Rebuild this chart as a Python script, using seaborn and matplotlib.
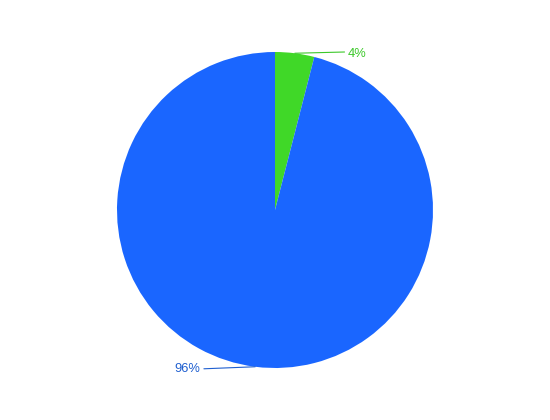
import numpy as np
import matplotlib
matplotlib.use("Agg")
import matplotlib.pyplot as plt
import seaborn as sns

labels = ["A", "B"]
values = [4, 96]
colors = ["#40d828", "#1a66ff"]
text_colors = ["#3cc82a", "#1f5fd0"]
label_texts = ["4%", "96%"]

sns.set_style("white")
plt.rcParams['font.family'] = ['Liberation Sans', 'DejaVu Sans']

fig = plt.figure(figsize=(5.5, 4.2), dpi=100)
ax = fig.add_axes([117/550, 52/420, 316/550, 316/420])
wedges, _ = ax.pie(values, colors=colors, startangle=90, counterclock=False,
                   radius=1.0, wedgeprops=dict(linewidth=0))
ax.set_xlim(-1, 1)
ax.set_ylim(-1, 1)
ax.set_aspect('equal')
ax.axis('off')

# label placement (layout)
label_pos = [(0.46, 0.99, 'left', 0.44, 1.0), (-0.47, -1.005, 'right', -0.45, -1.005)]
for w, txt, tc, (tx, ty, ha, lx, ly) in zip(wedges, label_texts, text_colors, label_pos):
    ang = np.deg2rad((w.theta1 + w.theta2) / 2)
    px, py = np.cos(ang), np.sin(ang)
    ax.plot([px, lx], [py, ly], color=tc, lw=0.8, clip_on=False)
    ax.text(tx, ty, txt, color=tc, ha=ha, va='center', fontsize=9.3, clip_on=False)

fig.savefig("out.png", dpi=100)
